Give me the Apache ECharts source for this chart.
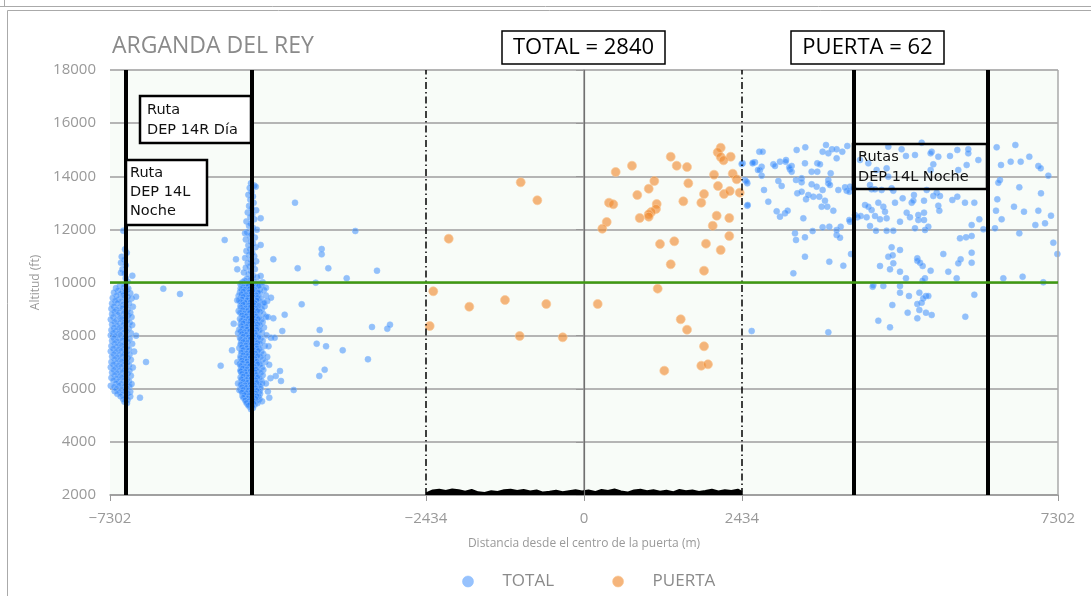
<!DOCTYPE html>
<html><head><meta charset="utf-8">
<script src="https://cdn.jsdelivr.net/npm/echarts@6/dist/echarts.min.js"></script>
<style>html,body{margin:0;padding:0;background:#fff}#c{width:1091px;height:596px}</style>
</head><body><div id="c"></div>
<script>
// ---------------- DATA ----------------
const xTicks = [-7302, -2434, 0, 2434, 7302];
const yRange = [2000, 18000];
const yStep = 2000;
const routeLines = [-7055, -5119, 4159, 6213];
const gateLines = [-2434, 2434];
const centerLine = 0;
const threshold = 10000;
const totalCount = 2840;
const puertaCount = 62;

// TOTAL – cluster near route DEP 14L Noche (left)
const totalCluster1 = [
[-7097,11950],[-7071,11250],[-7045,11120],[-7122,10970],[-7082,10870],[-7133,10745],[-7060,10650],[-7110,10500],[-7133,10370],[-7082,10350],[-6958,10256],[-7060,10160],[-7030,10030],
[-7150,9880],[-7060,9920],[-7210,9790],[-7090,9830],[-7020,9770],[-7180,9710],[-7110,9680],[-7040,9740],
[-7240,9620],[-7140,9580],[-7070,9640],[-6990,9600],[-7200,9510],[-7100,9530],[-7030,9470],
[-7260,9420],[-7170,9380],[-7080,9440],[-6970,9400],[-7220,9320],[-7130,9290],[-7050,9330],
[-7270,9210],[-7190,9230],[-7100,9180],[-7010,9220],[-7240,9110],[-7150,9080],[-7060,9130],[-6950,9090],
[-7280,9010],[-7200,8980],[-7110,9030],[-7030,8990],[-7230,8920],[-7160,8880],[-7070,8910],[-6990,8870],
[-7270,8810],[-7180,8790],[-7090,8830],[-7020,8780],[-7250,8710],[-7140,8680],[-7060,8730],[-6970,8700],
[-7290,8610],[-7200,8590],[-7120,8630],[-7040,8580],[-7230,8520],[-7150,8480],[-7080,8510],[-7000,8490],
[-7270,8420],[-7190,8380],[-7100,8410],[-6960,8400],[-7240,8310],[-7160,8290],[-7070,8330],[-7010,8280],
[-7280,8210],[-7210,8190],[-7130,8230],[-7050,8180],[-7250,8110],[-7170,8080],[-7090,8120],[-6980,8090],
[-7290,8010],[-7220,7990],[-7140,8030],[-7060,7980],[-6900,8000],[-7240,7910],[-7160,7880],[-7080,7920],[-7000,7890],
[-7270,7810],[-7190,7790],[-7110,7830],[-7030,7780],[-7230,7720],[-7150,7680],[-7070,7710],[-6960,7690],
[-7280,7610],[-7200,7590],[-7120,7630],[-7040,7580],[-7250,7520],[-7170,7480],[-7090,7510],[-7010,7490],
[-7290,7410],[-7210,7390],[-7130,7430],[-7050,7380],[-6930,7400],[-7240,7310],[-7160,7280],[-7080,7320],[-7000,7290],
[-7270,7210],[-7190,7190],[-7110,7230],[-7030,7180],[-7230,7120],[-7150,7080],[-7070,7110],[-6980,7090],
[-7280,7010],[-7200,6980],[-7120,7030],[-7040,6990],[-7250,6920],[-7170,6880],[-7090,6910],[-7010,6890],
[-7290,6810],[-7210,6790],[-7130,6830],[-7050,6780],[-6950,6800],[-7240,6720],[-7160,6680],[-7080,6710],[-7000,6690],
[-7270,6610],[-7190,6590],[-7110,6630],[-7030,6580],[-7230,6520],[-7150,6480],[-7070,6510],[-6980,6490],
[-7280,6410],[-7200,6390],[-7120,6430],[-7040,6380],[-7250,6320],[-7170,6280],[-7090,6310],[-7010,6290],
[-7210,6210],[-7130,6190],[-7050,6230],[-6970,6180],[-7290,6110],[-7240,6080],[-7160,6120],[-7080,6090],[-7000,6100],
[-7200,6010],[-7120,5980],[-7040,6030],[-7230,5910],[-7150,5880],[-7070,5920],[-6990,5890],
[-7190,5810],[-7110,5790],[-7030,5830],[-7140,5720],[-7060,5680],[-6990,5710],[-7100,5610],[-7030,5590],[-7080,5510],[-7040,5460],
[-6840,5663],[-6747,7007],[-6481,9767],[-6224,9567],[-6901,9465]
];

// TOTAL – cluster near route DEP 14R Día
const totalCluster2 = [
[-5130,13740],[-5080,13650],[-5150,13560],[-5120,13420],[-5170,13300],[-5100,13240],[-5140,13120],[-5090,13000],[-5160,12880],[-5120,12800],
[-5050,12720],[-5180,12640],[-5110,12560],[-5140,12470],[-5080,12380],[-5200,12300],[-5130,12220],[-5160,12140],[-5100,12060],[-5040,11990],
[-5190,11900],[-5120,11830],[-5150,11760],[-5070,11690],[-5210,11620],[-5130,11550],[-5100,11480],[-5170,11400],[-5060,11330],[-5140,11260],
[-5200,11190],[-5110,11120],[-5160,11050],[-5080,10990],[-5220,10920],[-5130,10860],[-5050,10800],[-5180,10740],[-5100,10680],[-5150,10620],
[-5210,10560],[-5070,10500],[-5130,10440],[-5240,10380],[-5170,10320],[-5100,10260],[-5040,10200],[-5190,10150],[-5140,10100],[-5220,10080],
[-5250,10030],[-5160,9980],[-5090,10050],[-5010,9960],[-4950,10010],
[-5290,9930],[-5180,9880],[-5120,9950],[-5040,9860],[-4970,9910],
[-5230,9830],[-5140,9780],[-5060,9850],[-4990,9760],[-5200,9810],
[-5270,9730],[-5190,9680],[-5110,9750],[-5030,9660],[-4930,9710],
[-5300,9630],[-5210,9580],[-5130,9650],[-5070,9560],[-4990,9610],
[-5240,9530],[-5170,9480],[-5090,9550],[-5020,9460],[-4900,9510],
[-5280,9430],[-5200,9380],[-5140,9450],[-5060,9360],[-4980,9410],
[-5310,9330],[-5230,9280],[-5150,9350],[-5080,9260],[-5000,9310],
[-5260,9230],[-5180,9180],[-5100,9250],[-5040,9160],[-4950,9210],
[-5290,9130],[-5210,9080],[-5130,9150],[-5050,9060],[-4920,9110],
[-5250,9030],[-5170,8980],[-5110,9050],[-5020,8960],[-4960,9010],
[-5320,8930],[-5220,8880],[-5140,8950],[-5060,8860],[-4990,8910],
[-5270,8830],[-5190,8780],[-5120,8850],[-5030,8760],[-4940,8810],
[-5230,8730],[-5160,8680],[-5080,8750],[-5010,8660],[-4900,8710],
[-5300,8630],[-5200,8580],[-5130,8650],[-5050,8560],[-4970,8610],
[-5260,8530],[-5180,8480],[-5100,8550],[-5020,8460],[-4950,8510],
[-5290,8430],[-5210,8380],[-5140,8450],[-5070,8360],[-4990,8410],
[-5240,8330],[-5170,8280],[-5090,8350],[-5010,8260],[-4930,8310],
[-5310,8230],[-5220,8180],[-5150,8250],[-5080,8160],[-5000,8210],
[-5270,8130],[-5190,8080],[-5110,8150],[-5040,8060],[-4960,8110],
[-5230,8030],[-5160,7980],[-5090,8050],[-5020,7960],[-4890,8010],
[-5300,7930],[-5200,7880],[-5130,7950],[-5060,7860],[-4980,7910],
[-5260,7830],[-5180,7780],[-5100,7850],[-5030,7760],[-4950,7810],
[-5280,7730],[-5210,7680],[-5140,7750],[-5070,7660],[-4990,7710],
[-5250,7630],[-5170,7580],[-5090,7650],[-5010,7560],[-4920,7610],
[-5310,7530],[-5230,7480],[-5150,7550],[-5080,7460],[-5000,7510],
[-5270,7430],[-5190,7380],[-5120,7450],[-5050,7360],[-4970,7410],
[-5240,7330],[-5160,7280],[-5100,7350],[-5020,7260],[-4940,7310],
[-5290,7230],[-5210,7180],[-5130,7250],[-5060,7160],[-4980,7210],
[-5260,7130],[-5180,7080],[-5110,7150],[-5030,7060],[-4950,7110],
[-5230,7030],[-5150,6980],[-5080,7050],[-5000,6960],[-4910,7010],
[-5300,6930],[-5220,6880],[-5140,6950],[-5070,6860],[-4990,6910],
[-5270,6830],[-5190,6780],[-5120,6850],[-5040,6760],[-4960,6810],
[-5240,6730],[-5170,6680],[-5090,6750],[-5020,6660],[-4940,6710],
[-5280,6630],[-5200,6580],[-5130,6650],[-5060,6560],[-4980,6610],
[-5250,6530],[-5180,6480],[-5100,6550],[-5030,6460],[-4950,6510],
[-5290,6430],[-5210,6380],[-5140,6450],[-5070,6360],[-5000,6410],
[-5260,6330],[-5170,6280],[-5110,6350],[-5040,6260],[-4970,6310],
[-5230,6230],[-5160,6180],[-5090,6250],[-5020,6160],[-4960,6210],
[-5270,6130],[-5190,6080],[-5120,6150],[-5050,6060],[-4990,6110],
[-5250,6030],[-5180,5980],[-5110,6050],[-5040,5960],[-4980,6010],
[-5280,5930],[-5200,5880],[-5130,5950],[-5070,5860],[-5000,5910],
[-5240,5830],[-5170,5780],[-5100,5850],[-5030,5760],[-4990,5810],
[-5260,5730],[-5190,5680],[-5120,5750],[-5060,5660],[-5010,5710],
[-5220,5630],[-5160,5580],[-5100,5650],[-5040,5560],[-5000,5610],
[-5200,5530],[-5140,5480],[-5080,5550],[-5030,5460],
[-5180,5430],[-5120,5380],[-5070,5410],[-5150,5330],[-5100,5280],[-5130,5230],
[-4870,8700],[-4860,7600],[-4880,7200],[-4850,6900],[-4830,6400],[-5330,8100],[-5340,7000],[-5330,6200],
[-4900,9800],[-4880,9300],[-5320,9500],[-4900,6200],[-4870,5900],[-5310,5950],[-5290,6700],
[-5280,9970],[-5200,9940],[-5130,9960],[-5060,9930],
[-5250,9830],[-5170,9870],[-5100,9840],[-5010,9860],
[-5290,9770],[-5220,9740],[-5150,9760],[-5070,9730],
[-5250,9670],[-5160,9640],[-5090,9660],[-5020,9630],
[-5280,9570],[-5210,9540],[-5130,9560],[-5050,9530],
[-5250,9470],[-5170,9440],[-5100,9460],[-5030,9430],
[-5270,9370],[-5190,9340],[-5120,9360],[-5040,9330],
[-5290,9270],[-5220,9240],[-5140,9260],[-5070,9230],
[-5250,9170],[-5170,9140],[-5090,9160],[-5010,9130],
[-5290,9070],[-5210,9040],[-5140,9060],[-5060,9030],
[-5260,8970],[-5180,8940],[-5100,8960],[-5030,8930],
[-5300,8870],[-5230,8840],[-5150,8860],[-5080,8830],
[-5270,8770],[-5200,8740],[-5120,8760],[-5050,8730],
[-5250,8670],[-5170,8640],[-5090,8660],[-5020,8630],
[-5280,8570],[-5220,8540],[-5140,8560],[-5060,8530],
[-5250,8470],[-5170,8440],[-5090,8460],[-5030,8430],
[-5280,8370],[-5200,8340],[-5120,8360],[-5050,8330],
[-5260,8270],[-5190,8240],[-5110,8260],[-5040,8230],
[-5290,8170],[-5230,8140],[-5150,8160],[-5070,8130],
[-5270,8070],[-5200,8040],[-5120,8060],[-5050,8030],
[-5250,7970],[-5170,7940],[-5090,7960],[-5010,7930],
[-5290,7870],[-5220,7840],[-5140,7860],[-5070,7830],
[-5250,7770],[-5180,7740],[-5110,7760],[-5030,7730],
[-5290,7670],[-5210,7640],[-5130,7660],[-5050,7630],
[-5270,7570],[-5190,7540],[-5120,7560],[-5040,7530],
[-5250,7470],[-5170,7440],[-5090,7460],[-5020,7430],
[-5280,7370],[-5200,7340],[-5130,7360],[-5060,7330],
[-5250,7270],[-5180,7240],[-5100,7260],[-5030,7230],
[-5290,7170],[-5220,7140],[-5140,7160],[-5070,7130],
[-5270,7070],[-5190,7040],[-5110,7060],[-5040,7030],
[-5260,6970],[-5180,6940],[-5100,6960],[-5030,6930],
[-5290,6870],[-5220,6840],[-5150,6860],[-5080,6830],
[-5260,6770],[-5190,6740],[-5110,6760],[-5050,6730],
[-5290,6670],[-5220,6640],[-5140,6660],[-5070,6630],
[-5270,6570],[-5200,6540],[-5120,6560],[-5050,6530],
[-5250,6470],[-5170,6440],[-5100,6460],[-5030,6430],
[-5280,6370],[-5200,6340],[-5130,6360],[-5060,6330],
[-5250,6270],[-5180,6240],[-5110,6260],[-5040,6230],
[-5290,6170],[-5220,6140],[-5140,6160],[-5080,6130],
[-5270,6070],[-5200,6040],[-5130,6060],[-5060,6030],
[-5250,5970],[-5170,5940],[-5100,5960],[-5040,5930],
[-5270,5870],[-5200,5840],[-5130,5860],[-5060,5830],
[-5230,5770],[-5160,5740],[-5090,5760],[-5040,5730],
[-5250,5670],[-5180,5640],[-5120,5660],[-5060,5630],
[-5220,5570],[-5160,5540],[-5100,5560],
[-5200,5470],[-5140,5440],[-5090,5460],
[-5170,5370],[-5110,5340]
];

// TOTAL – scattered between the left routes and the gate
const totalMid = [
[-5057,13607],[-4981,12417],[-4981,11412],[-5222,11852],
[-4452,13004],[-3523,11939],[-4041,11261],[-4041,11061],[-5535,11600],[-5361,10873],[-5341,10497],[-4786,10873],
[-4411,10535],[-3939,10535],[-3189,10444],[-4133,9993],[-3656,10158],[-4981,10245],[-4822,9428],[-4925,9240],
[-4349,9179],[-5341,9330],[-4611,8788],[-4786,8652],[-5396,8449],[-4072,8212],[-4648,8174],[-3266,8325],
[-3030,8260],[-2989,8411],[-4822,7922],[-4765,7922],[-4118,7696],[-3974,7598],[-3717,7447],[-5423,7447],
[-3328,7109],[-5597,6868],[-3995,6717],[-4078,6480],[-4683,6668],[-4668,6292],[-4749,6480],[-4472,5953],
[-4848,5663],[-4960,5527]
];

// TOTAL – right of the gate (DEP 14L Noche routes)
const totalRight = [
[2701,14925],[2752,14925],[3409,15088],[3728,15176],[3676,14925],[3764,14862],[3820,15013],[3892,15013],[3979,14925],[4056,15139],
[3276,14988],[2634,14524],[2598,14486],[2917,14448],[2942,14386],[3019,14549],[3112,14611],[3106,14549],[3199,14386],[3173,14260],
[3163,14335],[3199,14172],[2737,14360],[2711,14235],[3404,14486],[3594,14486],[3635,14448],[3892,14674],[2444,14486],[2737,14022],
[3507,14172],[3594,14172],[3800,14109],[4252,14611],[4688,15113],[4893,15013],[5202,15264],[5099,14800],[4960,14762],[5356,14925],
[5340,14862],[5458,14737],[5638,14762],[5751,14988],[5920,15013],[5920,14862],[6075,14611],[5895,14423],[5766,14235],[4380,14486],
[5381,14448],[5340,14235],[4508,14235],[4662,14298],[4688,13984],[6357,15088],[6645,15176],[6860,14737],[6999,14386],[7035,14298],
[6727,14549],[6573,14549],[6424,14423],[7153,14022],[6408,13858],[6383,13758],
[2480,13858],[2516,13733],[2994,13821],[3045,13633],[3266,13858],[3353,13921],[3353,13771],[3507,13695],[3584,13607],[3764,13858],
[3764,13733],[3789,13670],[3918,13482],[4021,13582],[4046,13457],[4087,13419],[4098,13607],[4149,13545],[2773,13482],[3286,13356],
[3353,13419],[3420,13131],[3456,13294],[3533,13231],[3625,13231],[3676,13482],[3712,13080],[3661,12854],[3748,12854],[3841,12704],
[2839,13043],[2516,12892],[2968,12679],[3019,12478],[3096,12603],[3137,12704],[3379,12415],[3676,12076],[3779,12101],[3892,11976],
[3954,12101],[4098,12290],[4087,12352],[4175,12541],[4211,12453],[4262,12503],[4354,12453],[4329,12917],[4380,12854],[4431,12729],
[4483,12503],[4534,13005],[4611,12854],[4637,12666],[4662,12415],[4560,12378],[4406,12127],[4498,11951],[4662,11951],[4765,11951],
[4791,13005],[4868,12290],[4909,13168],[4971,12629],[5022,12453],[5048,13005],[5083,13294],[5073,13080],[5150,12541],[5150,12352],
[5238,12629],[5238,12352],[5238,13080],[5253,11976],[5304,12101],[5099,12039],[5381,13256],[5433,13382],[5484,13256],[5458,12892],
[5474,12704],[5279,13482],[4431,13507],[4483,13507],[4585,13482],[4765,13457],[4739,13545],[4406,13670],[5674,13105],[5751,13231],
[5869,13005],[6013,13005],[6090,12378],[5972,12164],[6152,12001],[6331,12039],[6347,12704],[6434,12378],[6367,13131],[6624,12854],
[6778,12666],[6999,12704],[7102,12227],[6953,12164],[7194,12516],[6706,13582],[7040,13356],
[3250,11850],[3266,11599],[3404,11700],[3522,11938],[3892,11788],[3944,11687],[3404,10972],[3779,10784],[3995,10633],[4113,11072],
[3225,10344],[4739,11323],[4868,11223],[4688,10972],[4755,11022],[4560,10621],[4765,10721],[4714,10495],[5135,10909],[5135,10821],
[5176,10746],[5217,10621],[5340,10445],[5612,10407],[5741,10156],[4960,10156],[5253,10156],[5217,10068],[4868,10407],[5535,11072],
[5802,10872],[5766,10721],[5972,11123],[5972,10746],[5792,11662],[5885,11700],[5972,11750],[6706,11850],[7230,11499],[7292,11072],
[6460,10156],[6757,10219],[7076,10006],
[4457,9905],[4611,9868],[4447,9842],[4868,9868],[4868,9617],[5006,9491],[5166,9617],[5268,9491],[5304,9491],[5227,9403],
[5202,9240],[5135,9190],[5166,8964],[5268,8864],[5356,8776],[4986,8864],[4750,9152],[4534,8562],[4714,8311],[5135,8650],
[5874,8713],[6013,9541],[2583,8173],[3764,8123],
[2429,14461],[2506,13795],[2522,12918],[2603,14510],[2680,14235]
];

// PUERTA – flights through the gate
const puerta = [
[2106,15075],[2060,14902],[2106,14725],[2260,14736],[1336,14736],[1428,14397],[1587,14348],[739,14397],[488,14160],[2003,14058],
[2291,14096],[2352,13885],[1083,13821],[1607,13735],[2064,13633],[997,13531],[821,13294],[1849,13332],[2157,13332],[2245,13445],
[2399,13381],[385,13004],[451,12944],[1120,12955],[1530,13057],[1807,13004],[1109,12767],[1037,12654],[997,12568],[997,12477],
[858,12428],[2044,12515],[2238,12428],[350,12278],[282,12025],[1983,12138],[2238,11751],[1171,11449],[1391,11551],[1879,11461],
[2106,11224],[1336,10685],[1849,10444],[1135,9767],[211,9191],[1490,8615],[1587,8223],[-328,7937],[1849,7598],[1807,6868],
[1910,6920],[1237,6680],[-975,13772],[-719,13095],[-2084,11649],[-2322,9669],[-1767,9089],[-1217,9341],[-581,9191],[-2377,8362],
[-991,7986],[2150,14600]
];

// ground traffic band inside the gate
const ground = [
[-2434,2060],[-2330,2170],[-2230,2200],[-2130,2150],[-2030,2210],[-1930,2180],[-1830,2120],[-1730,2190],[-1630,2100],[-1530,2080],
[-1430,2140],[-1330,2110],[-1230,2180],[-1130,2200],[-1030,2150],[-930,2190],[-830,2130],[-730,2170],[-630,2090],[-530,2120],
[-430,2160],[-330,2100],[-230,2140],[-130,2180],[-30,2130],[70,2170],[170,2110],[270,2190],[370,2150],[470,2210],
[570,2130],[670,2090],[770,2170],[870,2200],[970,2140],[1070,2180],[1170,2120],[1270,2160],[1370,2100],[1470,2190],
[1570,2140],[1670,2170],[1770,2110],[1870,2150],[1970,2200],[2070,2130],[2170,2180],[2270,2150],[2370,2200],[2434,2120]
];

// ---------------- CHART ----------------
const totalData = [].concat(totalCluster1, totalCluster2, totalMid, totalRight);
const AX = '"Open Sans", "Noto Sans", sans-serif';
const DJ = '"DejaVu Sans", sans-serif';
const chart = echarts.init(document.getElementById('c'), null, {renderer: 'canvas'});

const vLines = [];
routeLines.forEach(v => vLines.push({xAxis: v, lineStyle: {color: '#000', width: 4, type: 'solid'}}));
gateLines.forEach(v => vLines.push({xAxis: v, lineStyle: {color: '#000', width: 1.5, type: [7, 3, 1.5, 3]}}));
vLines.push({xAxis: centerLine, lineStyle: {color: '#707070', width: 1.2, type: 'solid'}});
vLines.push({xAxis: xTicks[xTicks.length - 1], lineStyle: {color: '#aaa', width: 1.5, type: 'solid'}});
vLines.push({yAxis: threshold, lineStyle: {color: '#3f9a12', width: 2.5, type: 'solid'}});

const option = {
  animation: false,
  backgroundColor: '#fff',
  title: {
    text: 'ARGANDA DEL REY', left: 107, top: 30,
    textStyle: {fontFamily: AX, fontSize: 23, fontWeight: 'normal', color: '#8a8a8a'}
  },
  legend: {
    data: ['TOTAL', 'PUERTA'], left: 457, top: 568, icon: 'circle',
    itemWidth: 11, itemHeight: 11, itemGap: 58,
    itemStyle: {borderWidth: 1},
    textStyle: {fontFamily: AX, fontSize: 17, color: '#8a8a8a', padding: [0, 0, 0, 24]}
  },
  grid: {left: 110, right: 33, top: 70, bottom: 101, containLabel: false, outerBoundsMode: 'none',
         show: true, backgroundColor: '#f8fcf8', borderWidth: 0},
  xAxis: {
    type: 'value', min: xTicks[0], max: xTicks[xTicks.length - 1],
    name: 'Distancia desde el centro de la puerta (m)', nameLocation: 'middle', nameGap: 43,
    nameTextStyle: {fontFamily: AX, fontSize: 12, color: '#999'},
    axisLine: {show: true, onZero: false, lineStyle: {color: '#999', width: 1.5}},
    axisTick: {show: true, customValues: xTicks, length: 6, lineStyle: {color: '#999'}},
    axisLabel: {customValues: xTicks, margin: 16, fontFamily: AX, fontSize: 15, color: '#999',
                formatter: v => (v < 0 ? '\u2212' + Math.abs(v) : String(v))},
    splitLine: {show: false}
  },
  yAxis: {
    type: 'value', min: yRange[0], max: yRange[1], interval: yStep,
    name: 'Altitud (ft)', nameLocation: 'middle', nameGap: 68,
    nameTextStyle: {fontFamily: AX, fontSize: 12, color: '#999'},
    axisLine: {show: true, lineStyle: {color: '#999', width: 1.5}},
    axisTick: {show: true, length: 8, lineStyle: {color: '#999'}},
    axisLabel: {margin: 14, fontFamily: AX, fontSize: 15, color: '#999', formatter: v => String(v)},
    splitLine: {show: true, lineStyle: {color: '#b5b5b5', width: 2}}
  },
  series: [
    {
      name: 'refs', type: 'scatter', data: [], z: 1, silent: true,
      markLine: {silent: true, symbol: ['none', 'none'], label: {show: false}, animation: false, data: vLines}
    },
    {
      name: 'ground', type: 'line', data: ground, z: 2, symbol: 'none', silent: true,
      lineStyle: {color: '#000', width: 2}, areaStyle: {color: '#000', opacity: 1, origin: 'start'}
    },
    {
      name: 'TOTAL', type: 'scatter', data: totalData, z: 3, symbolSize: 6,
      itemStyle: {color: 'rgba(38,128,250,0.6)', borderColor: 'rgba(140,190,255,0.7)', borderWidth: 1}
    },
    {
      name: 'PUERTA', type: 'scatter', data: puerta, z: 4, symbolSize: 9,
      itemStyle: {color: 'rgba(240,140,50,0.8)', borderColor: 'rgba(250,200,150,0.8)', borderWidth: 1}
    }
  ],
  graphic: [
    {type: 'line', shape: {x1: 0, y1: 6.5, x2: 1091, y2: 6.5}, style: {stroke: '#aaa', lineWidth: 1}, z: 100},
    {type: 'line', shape: {x1: 4.5, y1: 0, x2: 4.5, y2: 6.5}, style: {stroke: '#aaa', lineWidth: 1}, z: 100},
    {type: 'line', shape: {x1: 7.5, y1: 10.5, x2: 1091, y2: 10.5}, style: {stroke: '#aaa', lineWidth: 1}, z: 100},
    {type: 'line', shape: {x1: 7.5, y1: 10.5, x2: 7.5, y2: 596}, style: {stroke: '#aaa', lineWidth: 1}, z: 100},

    {type: 'rect', shape: {x: 502, y: 31, width: 163, height: 33}, style: {fill: '#fff', stroke: '#000', lineWidth: 1.5}, z: 100},
    {type: 'text', x: 583.5, y: 48, style: {text: 'TOTAL = ' + totalCount, fontFamily: AX, fontSize: 22, fill: '#000', align: 'center', verticalAlign: 'middle'}, z: 101},
    {type: 'rect', shape: {x: 791, y: 31, width: 153, height: 33}, style: {fill: '#fff', stroke: '#000', lineWidth: 1.5}, z: 100},
    {type: 'text', x: 867.5, y: 48, style: {text: 'PUERTA = ' + puertaCount, fontFamily: AX, fontSize: 22, fill: '#000', align: 'center', verticalAlign: 'middle'}, z: 101},

    {type: 'rect', shape: {x: 140, y: 96, width: 111, height: 47}, style: {fill: '#fff', stroke: '#000', lineWidth: 2.5}, z: 100},
    {type: 'text', x: 147, y: 100, style: {text: 'Ruta\nDEP 14R Día', fontFamily: DJ, fontSize: 14.5, lineHeight: 20, fill: '#111'}, z: 101},
    {type: 'rect', shape: {x: 126, y: 160, width: 81, height: 65}, style: {fill: '#fff', stroke: '#000', lineWidth: 2.5}, z: 100},
    {type: 'text', x: 130, y: 164, style: {text: 'Ruta\nDEP 14L\nNoche', fontFamily: DJ, fontSize: 14.5, lineHeight: 19, fill: '#111'}, z: 101},
    {type: 'rect', shape: {x: 853, y: 144, width: 134, height: 45}, style: {fill: 'rgba(255,255,255,0)', stroke: '#000', lineWidth: 2.5}, z: 100},
    {type: 'text', x: 858, y: 147, style: {text: 'Rutas\nDEP 14L Noche', fontFamily: DJ, fontSize: 14.5, lineHeight: 20, fill: '#111'}, z: 101}
  ]
};
chart.setOption(option);
</script>
</body></html>
